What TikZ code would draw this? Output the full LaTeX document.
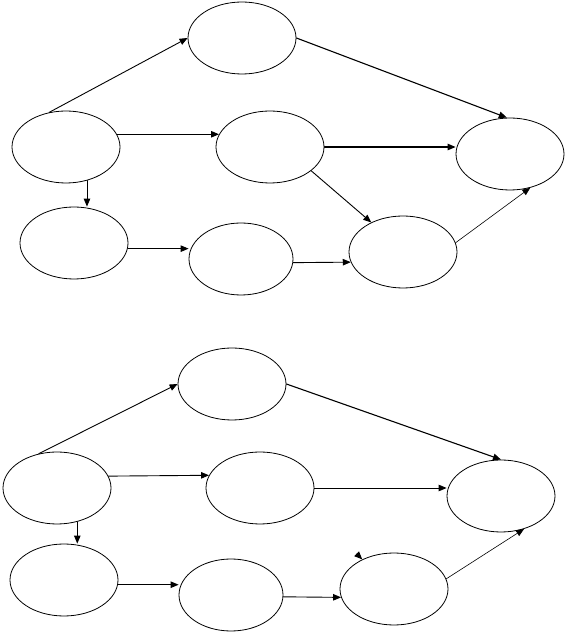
\documentclass[tikz,border=0pt]{standalone}
\usepackage{tikz}
\usetikzlibrary{arrows,arrows.meta,shapes.geometric,calc}

\begin{document}
\begin{tikzpicture}[line cap=round,line join=round,>={Triangle[length=8pt,width=6.5pt]},x=1pt,y=1pt,
  event/.style={draw,ellipse,line width=0.8pt,minimum width=108pt,minimum height=72pt,inner sep=0pt},
  link/.style={->,line width=0.9pt}]
\useasboundingbox (0,0) rectangle (566,632);
% upper network
\node[event] (a1) at (242,594) {};
\node[event] (b1) at (66,485) {};
\node[event] (c1) at (270,485) {};
\node[event] (d1) at (510,478) {};
\node[event] (e1) at (74,389) {};
\node[event,minimum width=104pt] (f1) at (241,373) {};
\node[event] (g1) at (403,380) {};
\draw [link] (b1.116) -- (a1.west);
\draw [link,line width=1.1pt] (a1.east) -- (d1.95);
\draw [link] (b1.14) -- (c1.166);
\draw [link,line width=1.1pt] (c1.east) -- (c1.east -| d1.west);
\draw [link] (c1.-30) -- (g1.137);
\draw [link,line width=0.6pt] (g1.10) -- (d1.-59);
\draw [link] (b1.-58) -- (b1.-58 |- e1.north);
\draw [link] (e1.-6) -- (e1.-6 -| f1.west);
\draw [link] (f1.-4) -- (g1.191);
% lower network
\node[event] (a2) at (232,248) {};
\node[event] (b2) at (57,144) {};
\node[event] (c2) at (260,144) {};
\node[event] (d2) at (501,136) {};
\node[event] (e2) at (64,52) {};
\node[event,minimum width=104pt] (f2) at (231,37) {};
\node[event] (g2) at (394,43) {};
\coordinate (stub) at ($(g2.137)+(-2,2)$);
\draw [link] (b2.118) -- (a2.west);
\draw [link,line width=1.1pt] (a2.east) -- (d2.north);
\draw [link] (b2.13) -- (c2.166);
\draw [link] (c2.east) -- (c2.east -| d2.west);
\draw [link] (b2.-59) -- (b2.-59 |- e2.north);
\draw [link] (e2.-5) -- (e2.-5 -| f2.west);
\draw [link] (f2.-2) -- (g2.189);
\draw [link,line width=0.6pt] (g2.11) -- (d2.-55);
\draw [link] (stub) -- (g2.137);
\end{tikzpicture}
\end{document}
